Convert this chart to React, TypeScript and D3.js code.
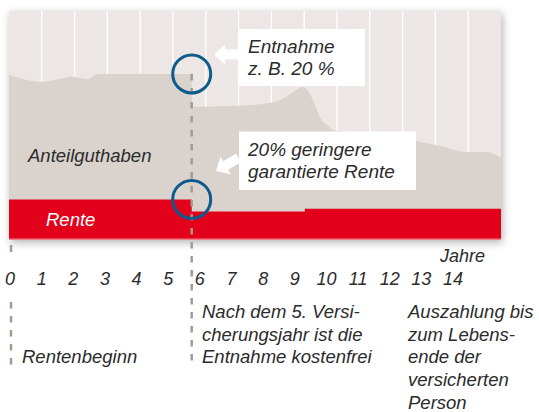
import React from "react";
import * as d3 from "d3";

// ---- data ----
const tickYears = [0, 1, 2, 3, 4, 5, 6, 7, 8, 9, 10, 11, 12, 13, 14];
const gridYears = [1, 2, 3, 4, 5, 6, 7, 8, 9, 10, 11, 12, 13, 14];
const guthabenYears = [0, 1.02, 1.76, 1.91, 2.42, 2.62, 2.77, 5.57, 5.58, 6.74, 7.74, 8.26, 8.66, 8.96, 9.09, 9.33, 9.48, 9.7, 9.88, 10.3, 11.31, 12.44, 13.14, 13.96, 14.57, 15];
const guthabenValues = [72.1, 69.1, 71.0, 71.3, 70.3, 72.1, 72.5, 72.5, 58.2, 58.5, 59.4, 61.1, 64.6, 66.8, 65.5, 59.0, 53.7, 50.2, 48.0, 47.2, 45.4, 43.2, 41.0, 38.4, 38.4, 35.8];
const renteStart = [0, 5.57, 9.02];
const renteEnd = [5.57, 9.02, 15];
const renteValues = [17.7, 12.4, 13.7];
const entnahmeYear = 5.57;
const bottomNotes = [
  { x: 22, lines: ["Rentenbeginn"], startLine: 2 },
  { x: 202, lines: ["Nach dem 5. Versi-", "cherungsjahr ist die", "Entnahme kostenfrei"], startLine: 0 },
  { x: 408, lines: ["Auszahlung bis", "zum Lebens-", "ende der", "versicherten", "Person"], startLine: 0 },
];

const W = 539;
const H = 412;
const P = { left: 9, right: 501, top: 11, bottom: 240 };

const FONT = "'Liberation Sans', Arial, sans-serif";
const TXT = "#2b2b2b";

export default function App() {
  const x = d3.scaleLinear().domain([0, 15]).range([P.left, P.right]);
  const y = d3.scaleLinear().domain([0, 100]).range([P.bottom, P.top]);
  const xLab = d3.scaleLinear().domain([0, 14]).range([10, 453]);

  const pts = guthabenYears.map((yr, i) => [yr, guthabenValues[i]] as [number, number]);
  const area = d3
    .area<[number, number]>()
    .x((d) => x(d[0]))
    .y0(y(0))
    .y1((d) => y(d[1]))
    .curve(d3.curveMonotoneX)(pts) as string;

  const steps: [number, number][] = [];
  renteStart.forEach((s, i) => {
    steps.push([s, renteValues[i]]);
    steps.push([renteEnd[i], renteValues[i]]);
  });
  const rentePath = d3
    .area<[number, number]>()
    .x((d) => x(d[0]))
    .y0(y(0))
    .y1((d) => y(d[1]))(steps) as string;

  const cx = x(entnahmeYear);
  const c1y = y(guthabenValues[7]);
  const c2y = y(renteValues[0]);
  const dashColor = "#a39a94";

  const arrow = "M0,0 L11,-10 L11,-5 L26,-5 L26,5 L11,5 L11,10 Z";
  const lineH = 22.7;
  const noteBase = 318;

  return (
    <svg width={W} height={H} style={{ position: "absolute", left: 0, top: 0, background: "#fff" }} fontFamily={FONT}>
      <defs>
        <filter id="sh" x="-10%" y="-10%" width="120%" height="130%">
          <feDropShadow dx="1.5" dy="2.5" stdDeviation="4" floodColor="#000" floodOpacity="0.3" />
        </filter>
        <clipPath id="pc">
          <rect x={P.left} y={P.top} width={P.right - P.left} height={P.bottom - P.top} />
        </clipPath>
      </defs>
      <rect x={P.left} y={P.top} width={P.right - P.left} height={P.bottom - P.top} fill="#ece7e4" filter="url(#sh)" />
      <g clipPath="url(#pc)">
        {gridYears.map((g) => (
          <line key={g} x1={x(g)} x2={x(g)} y1={P.top} y2={P.bottom} stroke="#fff" strokeWidth={1.3} />
        ))}
        <path d={area} fill="#d9d2cd" />
        <path d={rentePath} fill="#e2001a" />
        <line x1={P.left} x2={P.right} y1={P.bottom - 0.7} y2={P.bottom - 0.7} stroke="#f07a86" strokeWidth={1.4} />
      </g>

      {/* dashed lines */}
      <line x1={cx} x2={cx} y1={c1y} y2={366} stroke={dashColor} strokeWidth={2.5} strokeDasharray="6.5 7.5" />
      <line x1={11} x2={11} y1={245} y2={252} stroke={dashColor} strokeWidth={2.5} />
      <line x1={11} x2={11} y1={302} y2={366} stroke={dashColor} strokeWidth={2.5} strokeDasharray="6.5 7.5" />

      {/* circles */}
      <circle cx={cx} cy={c1y} r={19} fill="none" stroke="#0d5a8c" strokeWidth={3} />
      <circle cx={cx} cy={c2y} r={19} fill="none" stroke="#0d5a8c" strokeWidth={3} />

      {/* annotation boxes */}
      <rect x={239} y={29} width={126} height={57} fill="#fff" />
      <path d={arrow} fill="#fff" transform="translate(214,54.5)" />
      <text x={248} y={53} fontSize={19} fontStyle="italic" fill={TXT}>Entnahme</text>
      <text x={248} y={75} fontSize={19} fontStyle="italic" fill={TXT}>z. B. 20 %</text>

      <rect x={239} y={131.5} width={177} height={58.5} fill="#fff" />
      <path d={arrow} fill="#fff" transform="translate(216,171) rotate(-30)" />
      <text x={248} y={156} fontSize={19} fontStyle="italic" fill={TXT}>20% geringere</text>
      <text x={248} y={178} fontSize={19} fontStyle="italic" fill={TXT}>garantierte Rente</text>

      <text x={28} y={162} fontSize={18.5} fontStyle="italic" fill={TXT}>Anteilguthaben</text>
      <text x={46} y={226} fontSize={18.5} fontStyle="italic" fill="#fff">Rente</text>

      {/* axis */}
      <text x={485} y={262} fontSize={18} fontStyle="italic" fill={TXT} textAnchor="end">Jahre</text>
      {tickYears.map((t) => (
        <text key={t} x={xLab(t)} y={285} fontSize={18} fontStyle="italic" fill={TXT} textAnchor="middle">
          {t}
        </text>
      ))}

      {bottomNotes.map((n, i) => (
        <g key={i}>
          {n.lines.map((l, j) => (
            <text key={j} x={n.x} y={noteBase + (n.startLine + j) * lineH} fontSize={18.5} fontStyle="italic" fill={TXT}>
              {l}
            </text>
          ))}
        </g>
      ))}
    </svg>
  );
}
